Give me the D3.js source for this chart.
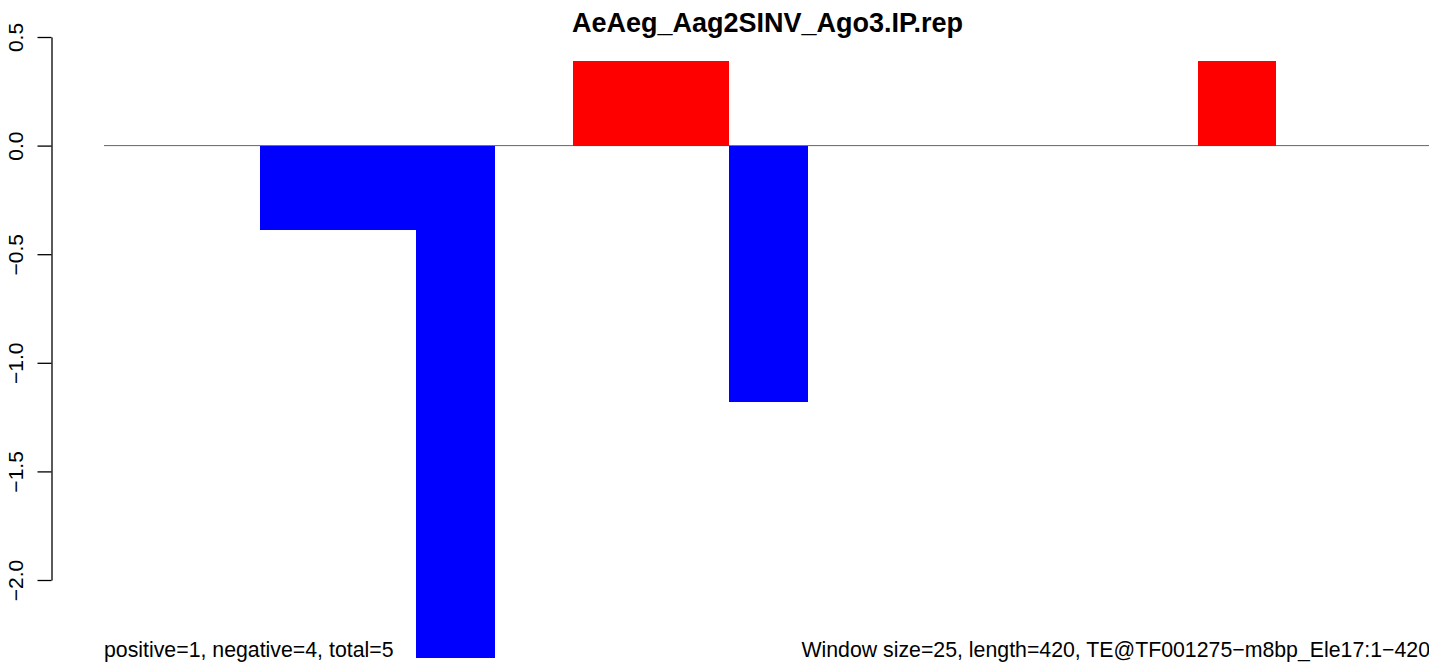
<!DOCTYPE html>
<html><head><meta charset="utf-8">
<script src="https://cdn.jsdelivr.net/npm/d3@7"></script>
<style>html,body{margin:0;padding:0;background:#fff;overflow:hidden}svg{display:block}</style>
</head><body>
<svg id="c" width="1429" height="664"></svg>
<script>
const titleText = "AeAeg_Aag2SINV_Ago3.IP.rep";
const windowIndex = [0,1,2,3,4,5,6,7,8,9,10,11,12,13,14,15,16];
const values = [0,0,-0.39,-0.39,-2.36,0,0.39,0.39,-1.18,0,0,0,0,0,0.39,0,0];
const yTicks = [-2.0,-1.5,-1.0,-0.5,0.0,0.5];
const leftNote = "positive=1, negative=4, total=5";
const rightNote = "Window size=25, length=420, TE@TF001275\u2212m8bp_Ele17:1\u2212420";

const svg = d3.select("#c");
const font = "'Liberation Sans', Arial, Helvetica, sans-serif";

const x = d3.scaleBand().domain(windowIndex).range([104, 1432]).padding(0);
const y = d3.scaleLinear().domain([-2, 0.5]).range([580, 37]);

// zero line
svg.append("line")
  .attr("x1", 104).attr("x2", 1429)
  .attr("y1", y(0)).attr("y2", y(0))
  .attr("stroke", "#666").attr("stroke-width", 1);

// bars
svg.append("g").attr("shape-rendering","crispEdges").selectAll("rect")
  .data(values.map((v,i)=>({i:windowIndex[i], v})).filter(d=>d.v!==0))
  .join("rect")
  .attr("x", d=>x(d.i))
  .attr("width", x.bandwidth() + 0.5)
  .attr("y", d=>y(Math.max(0,d.v)))
  .attr("height", d=>Math.abs(y(d.v)-y(0)))
  .attr("fill", d=>d.v>0?"#FF0000":"#0000FF");

// y axis
const ax = svg.append("g").attr("transform","translate(51.5,0)")
  .call(d3.axisLeft(y).tickValues(yTicks).tickSize(14).tickSizeOuter(0).tickFormat(d3.format(".1f")));
ax.select(".domain").attr("stroke","#000").attr("stroke-width",1.3);
ax.selectAll(".tick line").attr("stroke","#000").attr("stroke-width",1.3);
ax.selectAll(".tick text")
  .text(d=>d3.format(".1f")(d).replace("-","\u2212"))
  .attr("font-family", font).attr("font-size", 21).attr("fill","#000")
  .attr("x", 0).attr("y", 0).attr("dy", null)
  .attr("text-anchor","middle")
  .attr("transform","translate(-29,0) rotate(-90)");

// title
svg.append("text").attr("x", 767.5).attr("y", 32)
  .attr("text-anchor","middle").attr("font-family", font)
  .attr("font-weight","bold").attr("font-size", 27).text(titleText);

// bottom notes
svg.append("text").attr("x", 104).attr("y", 657)
  .attr("font-family", font).attr("font-size", 21.3).text(leftNote);
svg.append("text").attr("x", 1430).attr("y", 657).attr("text-anchor","end")
  .attr("font-family", font).attr("font-size", 21.3).text(rightNote);
</script>
</body></html>
